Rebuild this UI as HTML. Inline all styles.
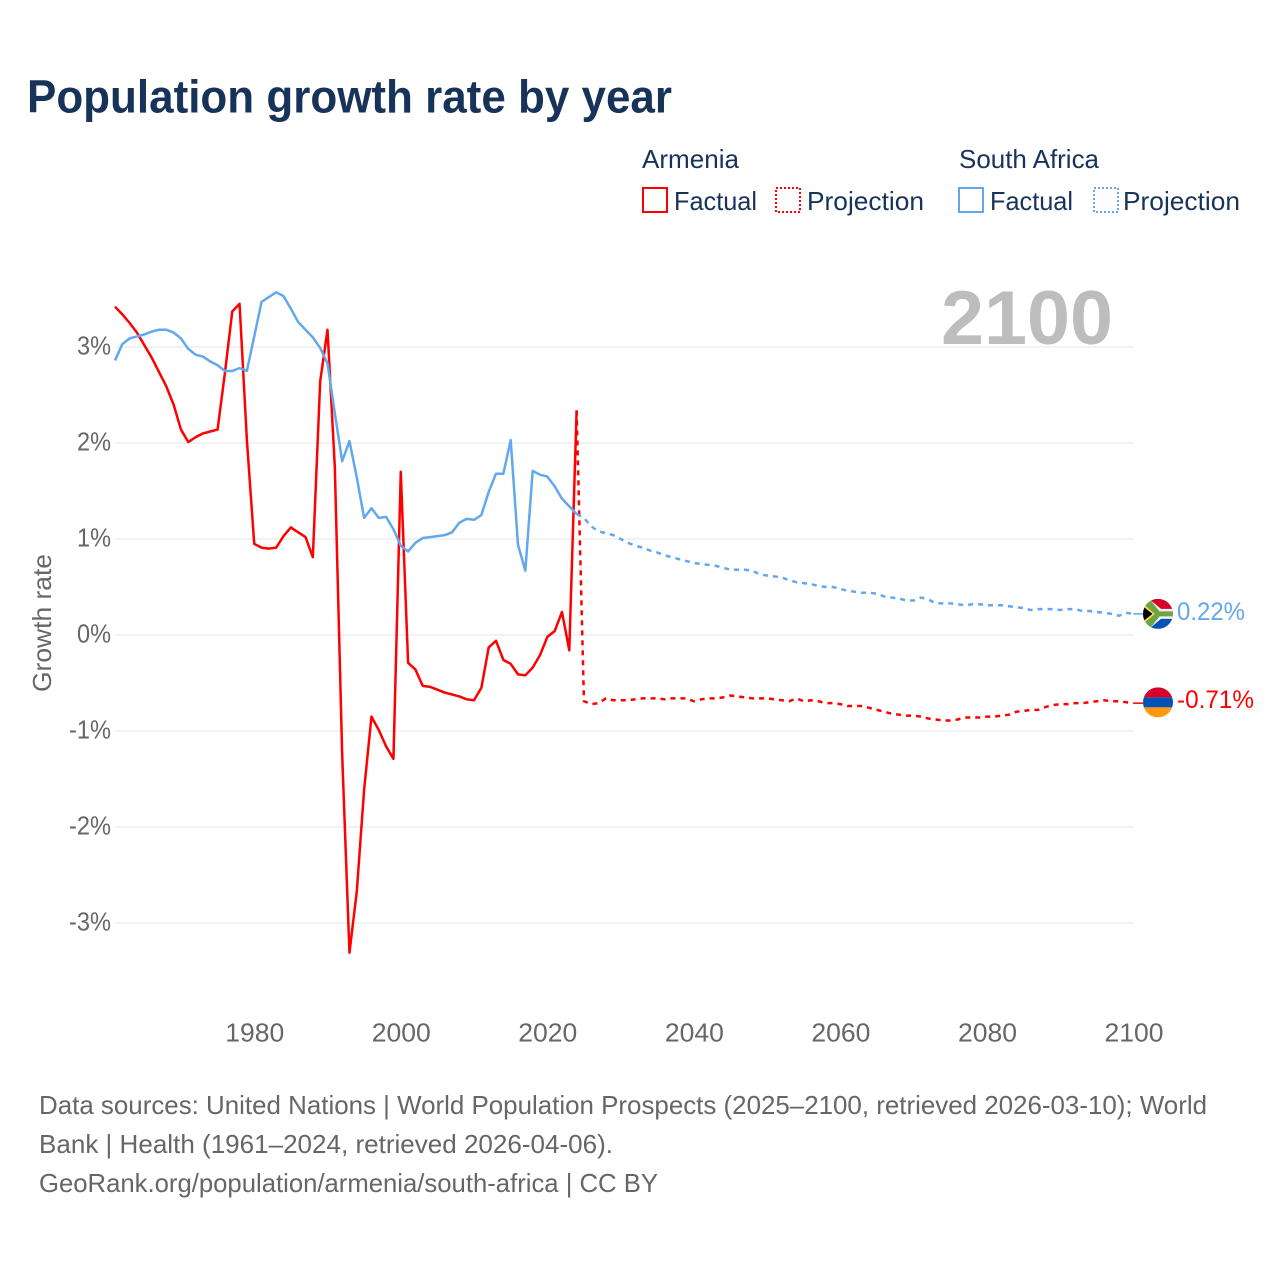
<!DOCTYPE html>
<html lang="en">
<head>
<meta charset="utf-8">
<title>Population growth rate by year</title>
<style>
html,body{margin:0;padding:0;background:#fff;width:1280px;height:1280px;overflow:hidden}
svg{display:block}
text{font-family:"Liberation Sans",sans-serif}
.navy{fill:#17335a}
.gray{fill:#666666}
</style>
</head>
<body>
<svg id="chart" xmlns="http://www.w3.org/2000/svg" width="1280" height="1280" viewBox="0 0 1280 1280">
  <defs>
    <clipPath id="flag-clip"><circle cx="0" cy="0" r="15"/></clipPath>
  </defs>
  <rect x="0" y="0" width="1280" height="1280" fill="#ffffff"/>

  <text class="navy" x="27" y="112.500" font-size="46" font-weight="700" textLength="645" lengthAdjust="spacingAndGlyphs">Population growth rate by year</text>

  <g>
    <text class="navy" x="642" y="168" font-size="26" textLength="97" lengthAdjust="spacingAndGlyphs">Armenia</text>
    <text class="navy" x="959" y="168" font-size="26" textLength="140" lengthAdjust="spacingAndGlyphs">South Africa</text>

    <rect x="643" y="188" width="24" height="24" fill="none" stroke="#ff0000" stroke-width="2" shape-rendering="crispEdges"/>
    <text class="navy" x="674" y="210" font-size="26" textLength="83" lengthAdjust="spacingAndGlyphs">Factual</text>
    <rect x="776" y="188" width="24" height="24" fill="none" stroke="#ff0000" stroke-width="2" stroke-dasharray="2 2" shape-rendering="crispEdges"/>
    <text class="navy" x="807" y="210" font-size="26" textLength="117" lengthAdjust="spacingAndGlyphs">Projection</text>

    <rect x="959" y="188" width="24" height="24" fill="none" stroke="#63a7ee" stroke-width="2" shape-rendering="crispEdges"/>
    <text class="navy" x="990" y="210" font-size="26" textLength="83" lengthAdjust="spacingAndGlyphs">Factual</text>
    <rect x="1094" y="188" width="24" height="24" fill="none" stroke="#63a7ee" stroke-width="2" stroke-dasharray="2 2" shape-rendering="crispEdges"/>
    <text class="navy" x="1123" y="210" font-size="26" textLength="117" lengthAdjust="spacingAndGlyphs">Projection</text>
  </g>

  <g id="grid"></g>
  <g id="y-ticks"></g>
  <g id="x-ticks"></g>

  <text x="1113" y="344" text-anchor="end" font-size="76" font-weight="700" fill="#bdbdbd" textLength="172" lengthAdjust="spacingAndGlyphs">2100</text>

  <text class="gray" transform="translate(51 692) rotate(-90)" x="0" y="0" font-size="26" textLength="138" lengthAdjust="spacingAndGlyphs">Growth rate</text>

  <g id="series"></g>

  <g id="end-armenia">
    <g transform="translate(1158 -0.800)" clip-path="url(#flag-clip)">
      <rect x="-15" y="-15" width="30" height="10" fill="#d80027"/>
      <rect x="-15" y="-5" width="30" height="10" fill="#0052b4"/>
      <rect x="-15" y="5" width="30" height="10" fill="#ff9811"/>
    </g>
    <text x="1177" y="5" font-size="25" fill="#ff0000" textLength="77" lengthAdjust="spacingAndGlyphs">-0.71%</text>
  </g>

  <g id="end-south-africa">
    <g transform="translate(1158 0)" clip-path="url(#flag-clip)">
      <rect x="-15" y="-15" width="30" height="15" fill="#d80027"/>
      <rect x="-15" y="0" width="30" height="15" fill="#0052b4"/>
      <polygon points="-15,-15 -9,-15 3,-5 15,-5 15,5 3,5 -9,15 -15,15" fill="#f0f0f0"/>
      <polygon points="-15,-13 -11,-15 -8.500,-15 1.500,-2.500 15,-2.500 15,2.500 1.500,2.500 -8.500,15 -11,15 -15,13" fill="#6da544"/>
      <polygon points="-15,-10 -3,0 -15,10" fill="#ffda44"/>
      <polygon points="-15,-7.500 -5.500,0 -15,7.500" fill="#000000"/>
    </g>
    <text x="1177" y="6" font-size="25" fill="#63a7ee" textLength="68" lengthAdjust="spacingAndGlyphs">0.22%</text>
  </g>

  <g>
    <text class="gray" x="39" y="1114" font-size="26" textLength="1168" lengthAdjust="spacingAndGlyphs">Data sources: United Nations | World Population Prospects (2025–2100, retrieved 2026-03-10); World</text>
    <text class="gray" x="39" y="1153" font-size="26" textLength="574" lengthAdjust="spacingAndGlyphs">Bank | Health (1961–2024, retrieved 2026-04-06).</text>
    <text class="gray" x="39" y="1192" font-size="26" textLength="619" lengthAdjust="spacingAndGlyphs">GeoRank.org/population/armenia/south-africa | CC BY</text>
  </g>
</svg>

<script>
const factualStartYear = 1961;
const projectionStartYear = 2025;

const yTickValues = [3, 2, 1, 0, -1, -2, -3];
const xTickValues = [1980, 2000, 2020, 2040, 2060, 2080, 2100];

const armeniaFactual = [
  3.42, 3.34, 3.25, 3.15, 3.02, 2.89, 2.74, 2.59, 2.40, 2.14,
  2.01, 2.06, 2.10, 2.12, 2.14, 2.73, 3.37, 3.45, 2.03, 0.95,
  0.91, 0.90, 0.91, 1.03, 1.12, 1.07, 1.02, 0.81, 2.64, 3.18,
  1.75, -1.24, -3.31, -2.67, -1.61, -0.85, -0.99, -1.16, -1.29, 1.70,
  -0.29, -0.36, -0.53, -0.54, -0.57, -0.60, -0.62, -0.64, -0.67, -0.68,
  -0.55, -0.13, -0.06, -0.26, -0.30, -0.41, -0.42, -0.34, -0.21, -0.02,
  0.04, 0.24, -0.16, 2.34
];

const armeniaProjection = [
  -0.69, -0.72, -0.71, -0.66, -0.68, -0.68,
  -0.68, -0.67, -0.66, -0.66, -0.66, -0.67, -0.66, -0.66, -0.66, -0.69,
  -0.67, -0.66, -0.66, -0.65, -0.63, -0.64, -0.65, -0.66, -0.66, -0.66,
  -0.67, -0.68, -0.69, -0.66, -0.69, -0.68, -0.69, -0.71, -0.71, -0.72,
  -0.74, -0.74, -0.74, -0.76, -0.78, -0.80, -0.82, -0.83, -0.84, -0.84,
  -0.85, -0.87, -0.88, -0.89, -0.89, -0.88, -0.86, -0.86, -0.86, -0.85,
  -0.85, -0.84, -0.83, -0.80, -0.79, -0.78, -0.78, -0.75, -0.73, -0.72,
  -0.72, -0.71, -0.71, -0.70, -0.69, -0.68, -0.69, -0.69, -0.70, -0.71
];

const southAfricaFactual = [
  2.86, 3.03, 3.09, 3.11, 3.13, 3.16, 3.18, 3.18, 3.15, 3.09,
  2.98, 2.92, 2.90, 2.85, 2.81, 2.75, 2.75, 2.78, 2.75, 3.11,
  3.47, 3.52, 3.57, 3.53, 3.40, 3.26, 3.18, 3.10, 2.99, 2.83,
  2.31, 1.81, 2.02, 1.64, 1.22, 1.32, 1.22, 1.23, 1.10, 0.93,
  0.87, 0.96, 1.01, 1.02, 1.03, 1.04, 1.07, 1.17, 1.21, 1.20,
  1.25, 1.49, 1.68, 1.68, 2.03, 0.94, 0.67, 1.71, 1.67, 1.65,
  1.55, 1.42, 1.34, 1.26
];

const southAfricaProjection = [
  1.22, 1.13, 1.08, 1.06, 1.04, 1.00,
  0.96, 0.93, 0.91, 0.88, 0.86, 0.83, 0.81, 0.79, 0.77, 0.75,
  0.74, 0.73, 0.72, 0.70, 0.68, 0.68, 0.68, 0.67, 0.63, 0.62,
  0.61, 0.60, 0.57, 0.55, 0.54, 0.53, 0.51, 0.50, 0.50, 0.48,
  0.46, 0.45, 0.44, 0.44, 0.43, 0.40, 0.39, 0.38, 0.36, 0.36,
  0.39, 0.37, 0.33, 0.33, 0.33, 0.32, 0.31, 0.32, 0.32, 0.31,
  0.31, 0.31, 0.30, 0.29, 0.28, 0.26, 0.27, 0.27, 0.27, 0.26,
  0.27, 0.27, 0.25, 0.25, 0.24, 0.23, 0.22, 0.20, 0.23, 0.22
];

const NS = 'http://www.w3.org/2000/svg';
const plotLeft = 115;
const plotRight = 1133.5;
const xDomainStart = 1961;
const xDomainEnd = 2100;
const yZero = 635;
const yUnit = 96;

function xScale(year) {
  return plotLeft + (year - xDomainStart) * (plotRight - plotLeft) / (xDomainEnd - xDomainStart);
}
function yScale(value) {
  return yZero - value * yUnit;
}
function make(tag, parent) {
  const el = document.createElementNS(NS, tag);
  parent.appendChild(el);
  return el;
}
function linePath(startYear, values) {
  return values.map(function (v, i) {
    return (i ? 'L' : 'M') + xScale(startYear + i).toFixed(2) + ' ' + yScale(v).toFixed(2);
  }).join(' ');
}

const gridGroup = document.getElementById('grid');
const yTickGroup = document.getElementById('y-ticks');
yTickValues.forEach(function (v) {
  const line = make('line', gridGroup);
  
  
  line.setAttribute('x1', plotLeft);
  line.setAttribute('x2', plotRight);
  line.setAttribute('y1', yScale(v));
  line.setAttribute('y2', yScale(v));
  line.setAttribute('stroke', '#eeeeee');
  line.setAttribute('stroke-width', '1.5');

  const label = make('text', yTickGroup);
  
  
  label.setAttribute('class', 'gray');
  label.setAttribute('x', 111);
  label.setAttribute('y', yScale(v) + 7.5);
  label.setAttribute('text-anchor', 'end');
  label.setAttribute('font-size', '26');
  label.setAttribute('textLength', v < 0 ? 42 : 34);
  label.setAttribute('lengthAdjust', 'spacingAndGlyphs');
  label.textContent = v + '%';
});

const xTickGroup = document.getElementById('x-ticks');
xTickValues.forEach(function (yr) {
  const label = make('text', xTickGroup);
  
  
  label.setAttribute('class', 'gray');
  label.setAttribute('x', xScale(yr) + 0.5);
  label.setAttribute('y', 1041.5);
  label.setAttribute('text-anchor', 'middle');
  label.setAttribute('font-size', '26');
  label.setAttribute('textLength', 59);
  label.setAttribute('lengthAdjust', 'spacingAndGlyphs');
  label.textContent = String(yr);
});

const seriesGroup = document.getElementById('series');
const red = '#ff0000';
const blue = '#63a7ee';

function addSeriesLine(d, color, dashed) {
  const path = make('path', seriesGroup);
  path.setAttribute('d', d);
  path.setAttribute('fill', 'none');
  path.setAttribute('stroke', color);
  path.setAttribute('stroke-width', '2.5');
  path.setAttribute('stroke-linejoin', 'round');
  if (dashed) path.setAttribute('stroke-dasharray', '5 5');
  return path;
}
function addLeader(value, color) {
  const leader = make('line', seriesGroup);
  leader.setAttribute('x1', xScale(xDomainEnd));
  leader.setAttribute('x2', 1143);
  leader.setAttribute('y1', yScale(value));
  leader.setAttribute('y2', yScale(value));
  leader.setAttribute('stroke', color);
  leader.setAttribute('stroke-width', '1.5');
  return leader;
}

const armeniaLine = addSeriesLine(linePath(factualStartYear, armeniaFactual), red, false);



const armeniaProjLine = addSeriesLine(linePath(projectionStartYear - 1, [armeniaFactual[armeniaFactual.length - 1]].concat(armeniaProjection)), red, true);



const southAfricaLine = addSeriesLine(linePath(factualStartYear, southAfricaFactual), blue, false);



const southAfricaProjLine = addSeriesLine(linePath(projectionStartYear - 1, [southAfricaFactual[southAfricaFactual.length - 1]].concat(southAfricaProjection)), blue, true);



const armeniaLast = armeniaProjection[armeniaProjection.length - 1];
const southAfricaLast = southAfricaProjection[southAfricaProjection.length - 1];

const armeniaLeader = addLeader(armeniaLast, red);



const southAfricaLeader = addLeader(southAfricaLast, blue);



document.getElementById('end-armenia').setAttribute('transform', 'translate(0 ' + yScale(armeniaLast) + ')');
document.getElementById('end-south-africa').setAttribute('transform', 'translate(0 ' + yScale(southAfricaLast) + ')');
</script>
</body>
</html>
